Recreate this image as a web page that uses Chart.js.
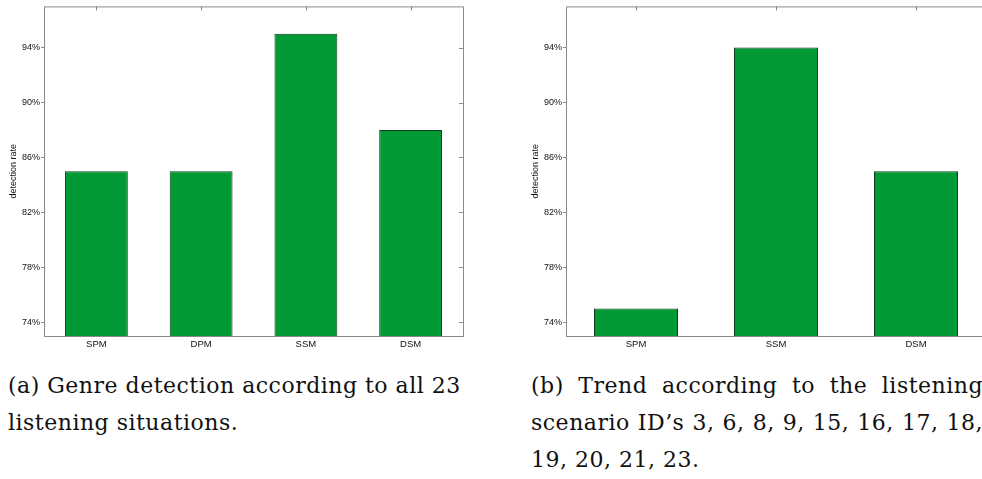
<!DOCTYPE html>
<html>
<head>
<meta charset="utf-8">
<script src="https://cdn.jsdelivr.net/npm/chart.js@4/dist/chart.umd.min.js"></script>
<style>
  html, body { margin: 0; padding: 0; background: #fff; width: 982px; height: 479px; overflow: hidden; }
  .box { position: absolute; top: 0; height: 362px; }
  #boxA { left: 0; width: 470px; }
  #boxB { left: 522px; width: 471px; }
  .cap { position: absolute; font-family: "DejaVu Serif", serif; font-size: 22px; line-height: 37px; letter-spacing: 0.5px; color: #111; }
  #capA { left: 8px; top: 367px; width: 470px; }
  #capB { left: 531px; top: 367px; width: 452px; text-align: justify; }
</style>
</head>
<body>
<div class="box" id="boxA"><canvas id="chartA"></canvas></div>
<div class="box" id="boxB"><canvas id="chartB"></canvas></div>
<div class="cap" id="capA">(a) Genre detection according to all 23 listening situations.</div>
<div class="cap" id="capB">(b) Trend according to the listening scenario ID’s 3, 6, 8, 9, 15, 16, 17, 18, 19, 20, 21, 23.</div>
<script>
// values (detection rate in %)
const labelsA = ['SPM', 'DPM', 'SSM', 'DSM'];
const valuesA = [85, 85, 95, 88];
const labelsB = ['SPM', 'SSM', 'DSM'];
const valuesB = [75, 94, 85];
const yTicks = [74, 78, 82, 86, 90, 94];
const yMin = 73, yMax = 97;

const barGreen = '#009933';
const frame = '#8a8a8a';

// box + inward ticks on top and right side, like the matlab axes
const framePlugin = {
  id: 'frame',
  afterDatasetsDraw(chart) {
    const { ctx, chartArea: a, scales } = chart;
    ctx.save();
    ctx.strokeStyle = frame;
    ctx.lineWidth = 1;
    ctx.strokeRect(a.left + 0.5, a.top + 0.5, a.right - a.left, a.bottom - a.top);
    ctx.beginPath();
    scales.x.ticks.forEach((t, i) => {
      const x = Math.round(scales.x.getPixelForTick(i)) + 0.5;
      ctx.moveTo(x, a.top);
      ctx.lineTo(x, a.top + 4);
    });
    scales.y.ticks.forEach(t => {
      const y = Math.round(scales.y.getPixelForValue(t.value)) + 0.5;
      ctx.moveTo(a.right - 4, y);
      ctx.lineTo(a.right, y);
    });
    ctx.stroke();
    ctx.restore();
  }
};

function makeChart(id, labels, values) {
  return new Chart(document.getElementById(id), {
    type: 'bar',
    data: {
      labels: labels,
      datasets: [{
        data: values,
        backgroundColor: barGreen,
        borderColor: '#0d3d1a',
        borderWidth: 1,
        borderSkipped: 'bottom',
        barPercentage: 0.6,
        categoryPercentage: 1
      }]
    },
    options: {
      responsive: true,
      maintainAspectRatio: false,
      animation: false,
      layout: { padding: { top: 6, right: 7, bottom: 6, left: 0 } },
      plugins: { legend: { display: false }, tooltip: { enabled: false } },
      scales: {
        x: {
          grid: { display: false, drawTicks: false, tickLength: 0 },
          border: { display: false },
          ticks: { color: '#111', font: { family: 'Liberation Sans', size: 9.5 }, padding: 3 },
          afterFit(s) { s.height = 20; }
        },
        y: {
          min: yMin,
          max: yMax,
          afterBuildTicks(s) { s.ticks = yTicks.map(v => ({ value: v })); },
          grid: { drawOnChartArea: false, drawTicks: true, tickLength: 3, color: frame },
          border: { display: false },
          ticks: {
            color: '#111',
            font: { family: 'Liberation Sans', size: 9 },
            padding: 1,
            callback: v => v + '%'
          },
          title: {
            display: true,
            text: 'detection rate',
            color: '#111',
            font: { family: 'Liberation Sans', size: 9 },
            padding: { top: 8, bottom: 0 }
          },
          afterFit(s) { s.width = 44; }
        }
      }
    },
    plugins: [framePlugin]
  });
}

makeChart('chartA', labelsA, valuesA);
makeChart('chartB', labelsB, valuesB);
</script>
</body>
</html>
